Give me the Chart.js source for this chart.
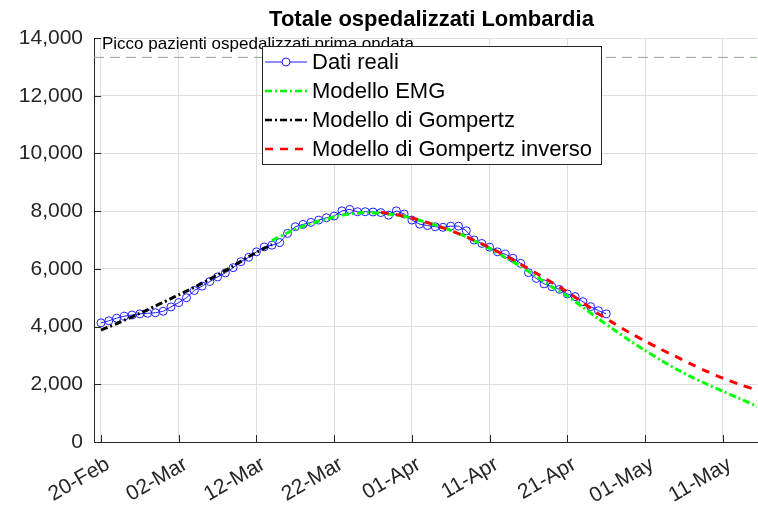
<!DOCTYPE html>
<html>
<head>
<meta charset="utf-8">
<script src="https://cdn.jsdelivr.net/npm/chart.js@4"></script>
<style>
  html, body { margin: 0; padding: 0; background: #fff; overflow: hidden; }
  canvas { display: block; }
</style>
</head>
<body>
<canvas id="chart" width="758" height="506"></canvas>
<script>
// x values are days since 20-Feb
tickDays = [0, 10, 20, 30, 40, 50, 60, 70, 80];
tickLabels = ['20-Feb', '02-Mar', '12-Mar', '22-Mar', '01-Apr', '11-Apr', '21-Apr', '01-May', '11-May'];

// real data, one value per day from 20-Feb
datiReali = [4130, 4200, 4290, 4360, 4400, 4440, 4460, 4480, 4530, 4680,
             4830, 5000, 5250, 5400, 5560, 5720, 5860, 6040, 6250, 6400,
             6590, 6760, 6820, 6910, 7230, 7460, 7540, 7610, 7690, 7770,
             7830, 8010, 8060, 7980, 7980, 7970, 7950, 7860, 8010, 7900,
             7690, 7550, 7500, 7460, 7440, 7480, 7480, 7320, 7000, 6880,
             6750, 6590, 6510, 6370, 6190, 5870, 5670, 5480, 5380, 5290,
             5130, 5040, 4860, 4690, 4550, 4440];

// Gompertz fit, daily from 20-Feb
gompertz = [3880, 3990, 4100, 4220, 4340, 4460, 4580, 4710, 4840, 4970,
            5100, 5230, 5360, 5500, 5640, 5790, 5940, 6100, 6260, 6420,
            6570, 6710, 6840];

// EMG model
emgDays = [22, 24, 26, 28, 30, 32, 34, 36, 38, 40, 42, 44, 46, 48, 50, 52, 54,
           56, 58, 60, 62, 64, 66, 68, 70, 72, 74, 76, 78, 80, 82, 84, 86];
emgValues = [6980, 7250, 7480, 7650, 7800, 7900, 7950, 7930, 7860, 7760, 7600, 7430, 7230, 6980, 6700, 6400, 6090,
             5740, 5380, 5060, 4670, 4270, 3890, 3520, 3170, 2840, 2530, 2250, 2000, 1760, 1520, 1290, 1080];

// inverse Gompertz model
invDays = [36, 38, 40, 42, 44, 46, 48, 50, 52, 54, 56, 58, 60, 62, 64, 66,
           68, 70, 72, 74, 76, 78, 80, 82, 84, 86];
invValues = [7960, 7880, 7760, 7600, 7420, 7220, 6990, 6740, 6460, 6160, 5850, 5530, 5200, 4830, 4440, 4110,
             3790, 3500, 3220, 2960, 2690, 2440, 2210, 2010, 1830, 1670];

piccoPrimaOndata = 13328;
xMin = -0.9;
xMax = 84.4;

var fontFamily = '"Liberation Sans", Arial, sans-serif';
var axisColor = '#262626';

function pts(xs, ys) {
    return ys.map(function (v, i) { return { x: xs[i], y: v }; });
}

var dayIndex = datiReali.map(function (v, i) { return i; });

// peak line text + legend + inner tick marks
var extras = {
    id: 'extras',
    afterLayout: function (chart) {
        // title sits a bit right of the visible plot centre in the original
        if (chart.titleBlock) {
            chart.titleBlock.left += 6;
            chart.titleBlock.right += 6;
        }
    },
    afterDatasetsDraw: function (chart) {
        var c = chart.ctx;
        var xs = chart.scales.x, ys = chart.scales.y;
        c.save();
        c.fillStyle = '#000';
        c.font = '17px ' + fontFamily;
        c.textBaseline = 'alphabetic';
        c.textAlign = 'left';
        c.fillText('Picco pazienti ospedalizzati prima ondata', xs.getPixelForValue(0) + 1, 49);

        // ticks pointing inward
        c.strokeStyle = axisColor;
        c.lineWidth = 1;
        c.beginPath();
        tickDays.forEach(function (d) {
            var px = Math.round(xs.getPixelForValue(d)) + 0.5;
            c.moveTo(px, ys.bottom);
            c.lineTo(px, ys.bottom - 7);
        });
        ys.ticks.forEach(function (t) {
            var py = Math.round(ys.getPixelForValue(t.value)) + 0.5;
            c.moveTo(xs.left, py);
            c.lineTo(xs.left + 7, py);
        });
        c.stroke();
        c.restore();
    },
    afterDraw: function (chart) {
        var c = chart.ctx;
        var sets = chart.data.datasets.filter(function (d) { return d.label; });
        var bx = 262, by = 46, bw = 339, bh = 118;
        c.save();
        c.fillStyle = '#fff';
        c.fillRect(bx, by, bw, bh);
        c.strokeStyle = axisColor;
        c.lineWidth = 1;
        c.strokeRect(bx + 0.5, by + 0.5, bw, bh);
        c.font = '22px ' + fontFamily;
        c.textBaseline = 'middle';
        c.textAlign = 'left';
        sets.forEach(function (d, i) {
            var cy = 62 + i * 29;
            c.beginPath();
            c.strokeStyle = d.borderColor;
            c.lineWidth = d.label === 'Dati reali' ? 1 : 2.5;
            c.setLineDash(d.borderDash || []);
            c.moveTo(265, cy);
            c.lineTo(307, cy);
            c.stroke();
            c.setLineDash([]);
            if (d.pointRadius) {
                c.beginPath();
                c.arc(286, cy, 4, 0, Math.PI * 2);
                c.fillStyle = '#fff';
                c.fill();
                c.stroke();
            }
            c.fillStyle = '#000';
            c.fillText(d.label, 312, cy + 1);
        });
        c.restore();
    }
};

new Chart(document.getElementById('chart').getContext('2d'), {
    type: 'line',
    data: {
        datasets: [{
            label: 'Dati reali',
            data: pts(dayIndex, datiReali),
            borderColor: 'rgb(30, 30, 255)',
            borderWidth: 1,
            pointRadius: 4,
            pointBorderWidth: 1,
            pointBackgroundColor: 'rgba(0,0,0,0)',
            pointBorderColor: 'rgb(30, 30, 255)',
            tension: 0,
            order: 4
        }, {
            label: 'Modello EMG',
            data: pts(emgDays, emgValues),
            borderColor: 'rgb(0, 255, 0)',
            borderWidth: 3,
            borderDash: [7, 3, 2, 3],
            pointRadius: 0,
            tension: 0.3,
            order: 3
        }, {
            label: 'Modello di Gompertz',
            data: pts(dayIndex, gompertz),
            borderColor: 'rgb(0, 0, 0)',
            borderWidth: 3,
            borderDash: [7, 3, 2, 3],
            pointRadius: 0,
            tension: 0.3,
            order: 2
        }, {
            label: 'Modello di Gompertz inverso',
            data: pts(invDays, invValues),
            borderColor: 'rgb(255, 0, 0)',
            borderWidth: 3,
            borderDash: [8, 7],
            pointRadius: 0,
            tension: 0.3,
            order: 1
        }, {
            data: [{ x: xMin, y: piccoPrimaOndata }, { x: xMax, y: piccoPrimaOndata }],
            borderColor: 'rgb(140, 170, 140)',
            borderWidth: 1,
            borderDash: [10, 6],
            pointRadius: 0,
            order: 5
        }]
    },
    options: {
        responsive: false,
        devicePixelRatio: 1,
        animation: false,
        layout: { autoPadding: false, padding: { left: 0, right: 1, top: 0, bottom: 0 } },
        plugins: {
            legend: { display: false },
            tooltip: { enabled: false },
            title: {
                display: true,
                text: 'Totale ospedalizzati Lombardia',
                fullSize: false,
                color: '#000',
                font: { family: fontFamily, size: 22, weight: 'bold' },
                padding: { top: 7, bottom: 4.6 }
            }
        },
        scales: {
            x: {
                type: 'linear',
                min: xMin,
                max: xMax,
                afterBuildTicks: function (scale) {
                    scale.ticks = tickDays.map(function (d) { return { value: d }; });
                },
                afterFit: function (scale) {
                    scale.height = 64;
                    scale.paddingLeft = 0;
                    scale.paddingRight = 0;
                },
                grid: { color: '#dfdfdf', drawTicks: false },
                border: { color: axisColor, width: 1 },
                ticks: {
                    color: axisColor,
                    font: { family: fontFamily, size: 21 },
                    minRotation: 30,
                    maxRotation: 30,
                    padding: 10,
                    labelOffset: 7,
                    callback: function (v) { return tickLabels[tickDays.indexOf(v)]; }
                }
            },
            y: {
                min: 0,
                max: 14000,
                afterFit: function (scale) { scale.width = 94; },
                grid: { color: '#dfdfdf', drawTicks: false },
                border: { color: axisColor, width: 1 },
                ticks: {
                    stepSize: 2000,
                    color: axisColor,
                    padding: 11,
                    font: { family: fontFamily, size: 21 },
                    callback: function (v) { return v.toLocaleString('en-US'); }
                }
            }
        }
    },
    plugins: [extras]
});
</script>
</body>
</html>
